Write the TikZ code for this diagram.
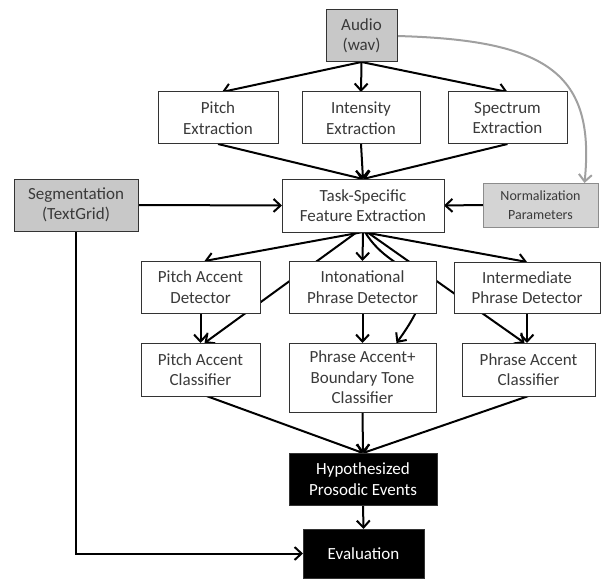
\documentclass[tikz,border=0pt]{standalone}
\usepackage{fontspec}
\setmainfont{Carlito}
\usetikzlibrary{arrows.meta,calc,backgrounds}
\definecolor{boxgray}{HTML}{C8C8C8}
\definecolor{normgray}{HTML}{D4D4D4}
\definecolor{txt}{HTML}{3A3A3A}
\definecolor{curvegray}{HTML}{A0A0A0}
\begin{document}
\begin{tikzpicture}[x=1pt,y=-1pt,
  box/.style={draw=black!80, line width=1pt, fill=white, rectangle, inner sep=0pt, outer sep=0pt, align=center, text=txt, font=\fontsize{17}{20.5}\selectfont},
  gbox/.style={box, fill=boxgray},
  nbox/.style={box, fill=normgray, draw=black!45, font=\fontsize{14}{19}\selectfont},
  bbox/.style={box, fill=black, text=white},
  arr/.style={line width=2pt, black, -{Straight Barb[length=7pt,width=13pt]}},
  garr/.style={line width=2pt, curvegray, -{Straight Barb[length=7pt,width=13pt]}},
]
\useasboundingbox (0,0) rectangle (604,580);

\node[gbox, minimum width=71pt, minimum height=52pt] (audio) at (361.5,36) {Audio\\(wav)};
\node[box, minimum width=120pt, minimum height=52pt] (pe) at (218,118) {Pitch\\Extraction};
\node[box, minimum width=118pt, minimum height=52pt] (ie) at (361,118) {Intensity\\Extraction};
\node[box, minimum width=119pt, minimum height=52pt] (se) at (507.5,118) {Spectrum\\Extraction};
\node[gbox, minimum width=124pt, minimum height=52pt] (seg) at (76,205) {Segmentation\\(TextGrid)};
\node[box, minimum width=162pt, minimum height=53pt] (task) at (363,205.5) {Task-Specific\\Feature Extraction};
\node[nbox, minimum width=115pt, minimum height=44pt] (norm) at (540.5,205) {Normalization\\Parameters};
\node[box, minimum width=119pt, minimum height=52pt] (pad) at (200.5,287) {Pitch Accent\\Detector};
\node[box, minimum width=147pt, minimum height=52pt] (ipd) at (362.5,287) {Intonational\\Phrase Detector};
\node[box, minimum width=146pt, minimum height=51pt] (imd) at (527,287.5) {Intermediate\\Phrase Detector};
\node[box, minimum width=119pt, minimum height=53pt] (pac) at (200.5,369.5) {Pitch Accent\\Classifier};
\node[box, minimum width=147pt, minimum height=69pt] (bt) at (362.5,377.5) {Phrase Accent+\\Boundary Tone\\Classifier};
\node[box, minimum width=133pt, minimum height=53pt] (phac) at (528.5,369.5) {Phrase Accent\\Classifier};
\node[bbox, minimum width=148pt, minimum height=52pt] (hyp) at (363,479) {Hypothesized\\Prosodic Events};
\node[bbox, minimum width=121pt, minimum height=49pt] (eval) at (363.5,553.5) {Evaluation};

\begin{scope}[on background layer]
\fill[white] (0,0) rectangle (604,580);
\draw[arr] (audio.south) -- ($(pe.north)+(4,0)$);
\draw[arr] (audio.south) -- (ie.north);
\draw[arr] (audio.south) -- (se.north);
\draw[garr] (audio.east) .. controls ($(audio.east)+(150,4)$) and ($(norm.north)+(55,-110)$) .. ($(norm.north)+(44,0)$);
\draw[arr] (pe.south) -- (task.north);
\draw[arr] (ie.south) -- (task.north);
\draw[arr] (se.south) -- (task.north);
\draw[arr] (seg.east) -- (task.west);
\draw[arr] (norm.west) -- (task.east);
\draw[arr] (task.south) -- ($(pad.north)+(4,0)$);
\draw[arr] (task.south) -- (ipd.north);
\draw[arr] (task.south) -- (imd.north);
\draw[arr] ($(task.south)+(-6,0)$) -- ($(pac.north)+(4,0)$);
\draw[arr] ($(task.south)+(4,0)$) -- ($(phac.north)+(-4,0)$);
\draw[arr] ($(task.south)+(2,0)$) .. controls ($(task.south)+(32,50)$) and ($(bt.north)+(92,-80)$) .. ($(bt.north)+(34,0)$);
\draw[arr] (pad.south) -- (pac.north);
\draw[arr] (ipd.south) -- (bt.north);
\draw[arr] (imd.south) -- ($(phac.north)+(-1.5,0)$);
\draw[arr] ($(pac.south)+(6,0)$) -- (hyp.north);
\draw[arr] (bt.south) -- (hyp.north);
\draw[arr] (phac.south) -- (hyp.north);
\draw[arr] (hyp.south) -- (eval.north);
\draw[arr] (seg.south) |- (eval.west);
\end{scope}
\end{tikzpicture}
\end{document}
